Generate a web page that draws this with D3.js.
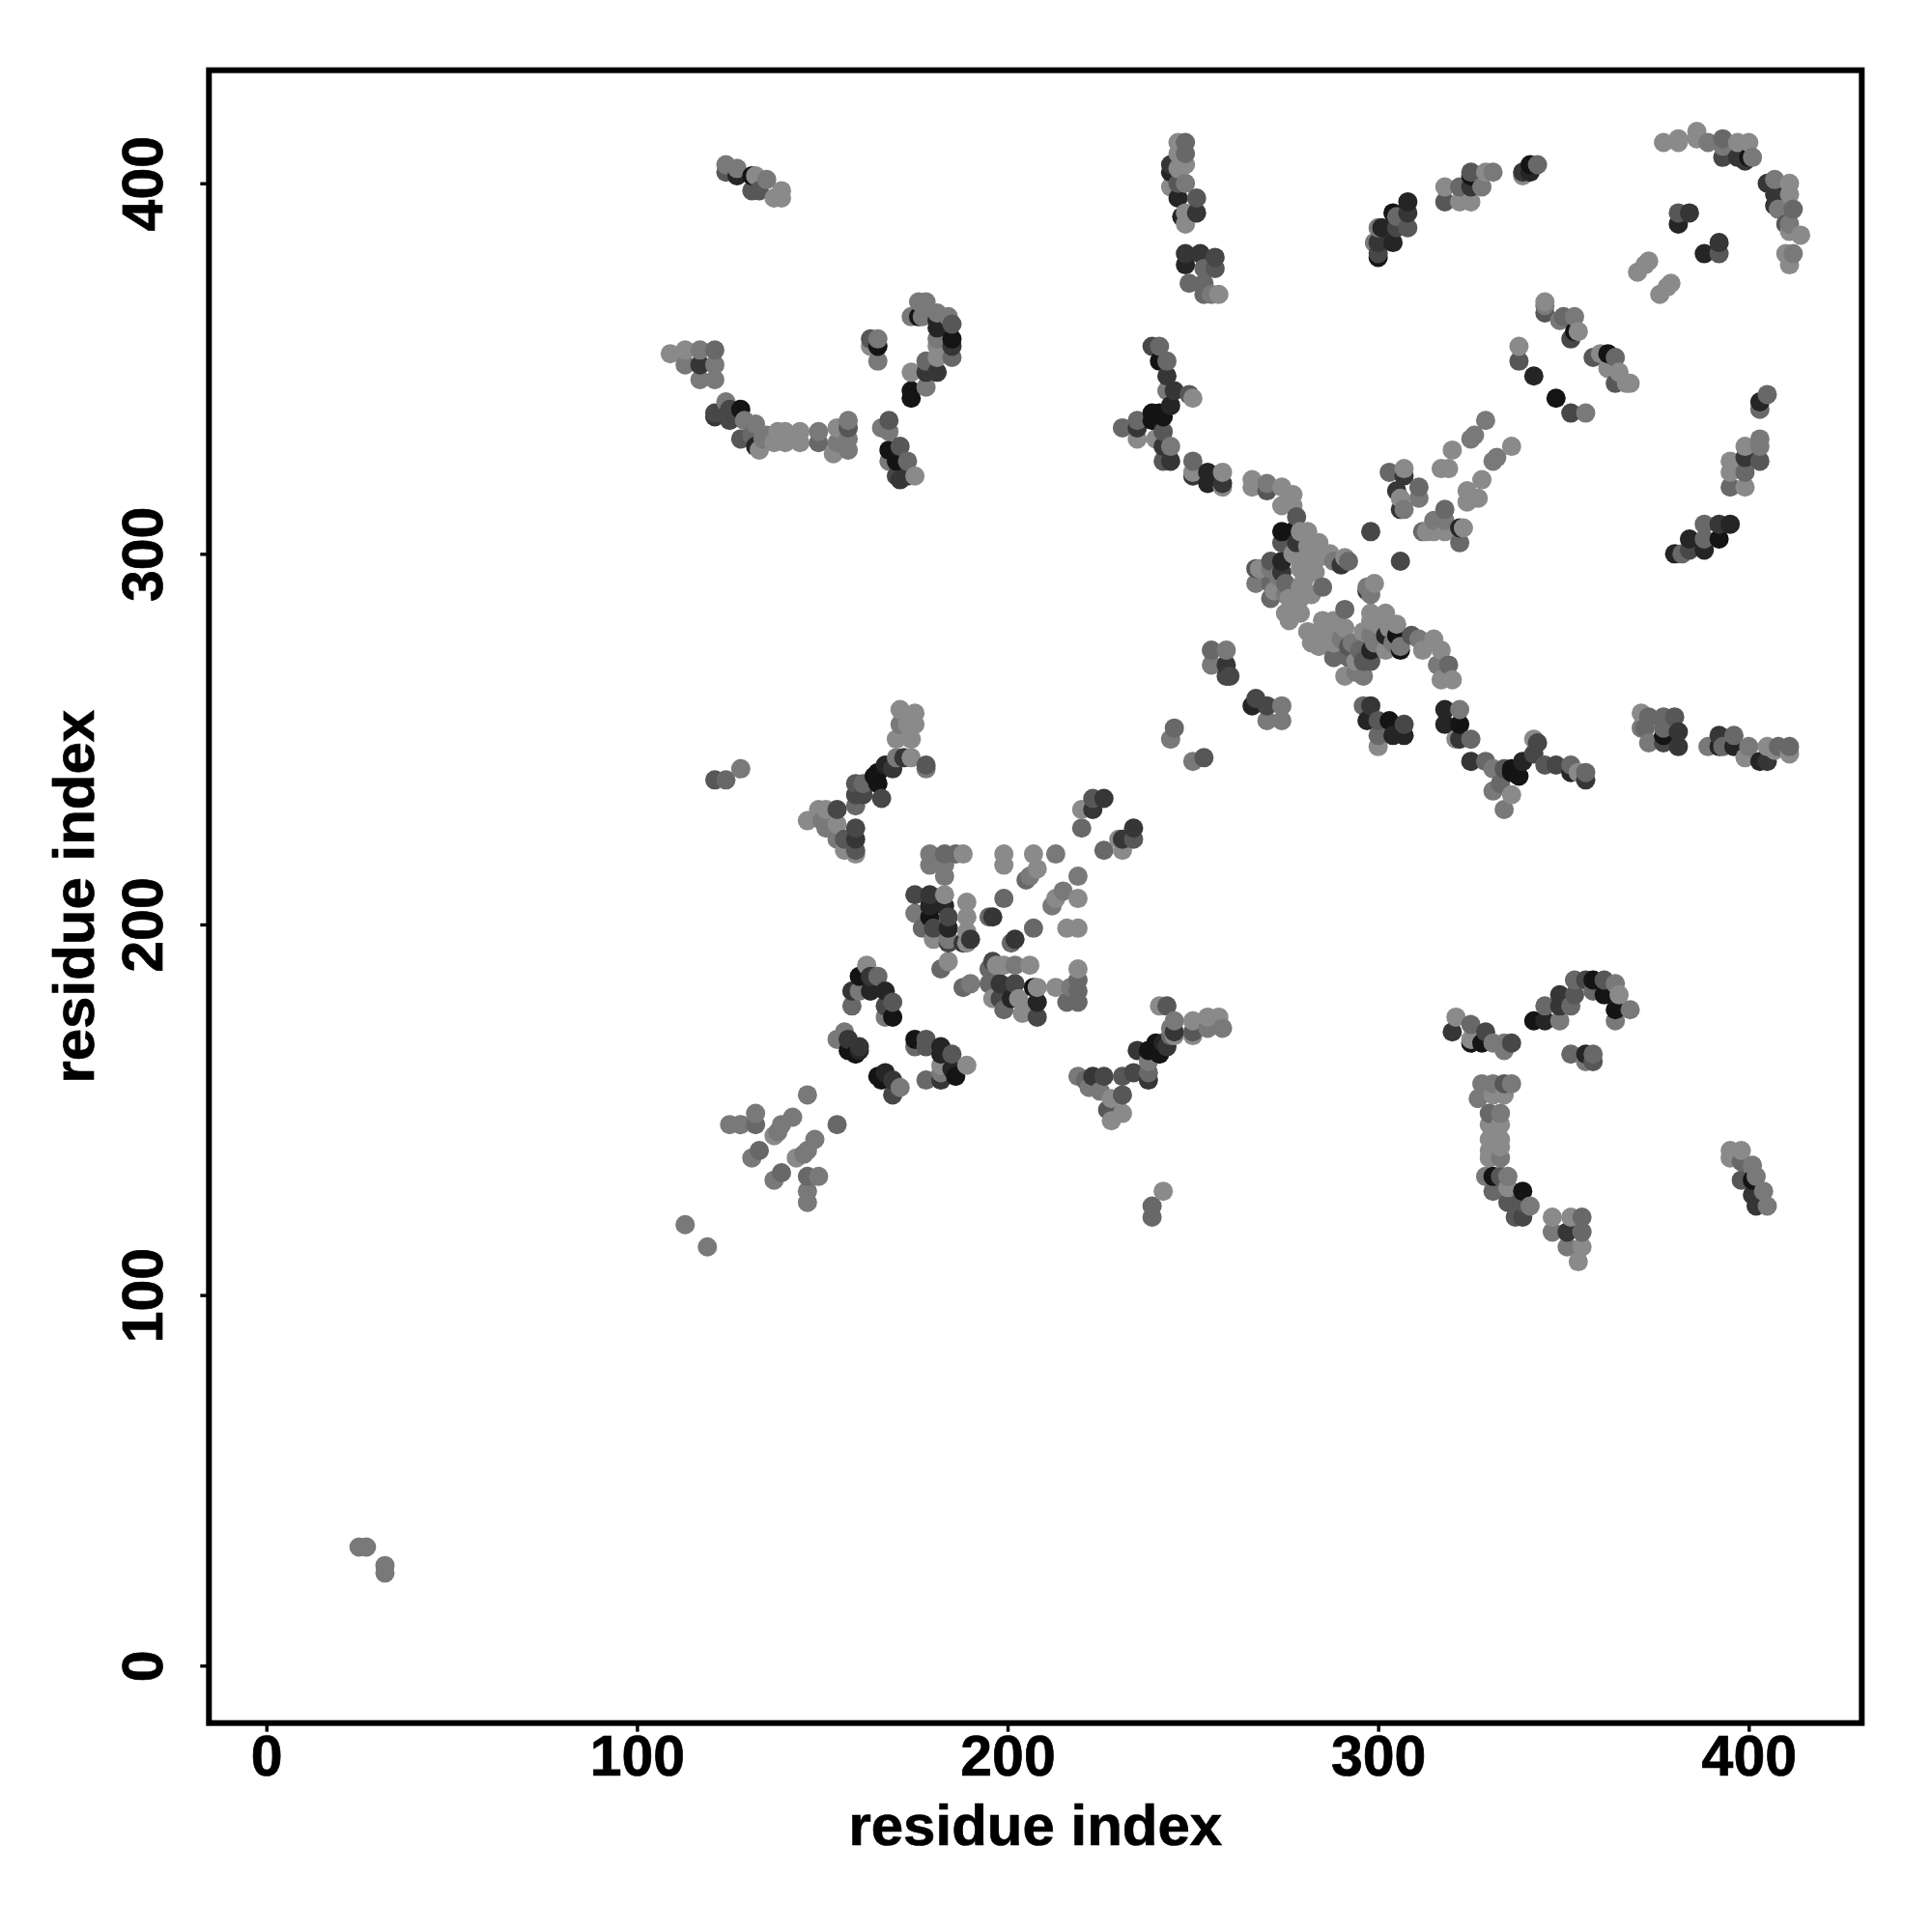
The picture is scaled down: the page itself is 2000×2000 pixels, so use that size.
<!DOCTYPE html>
<html><head><meta charset="utf-8">
<style>html,body{margin:0;padding:0;background:#fff}svg{display:block}text{font-family:"Liberation Sans",Arial,sans-serif;font-weight:700;fill:#000}</style>
<script src="https://cdn.jsdelivr.net/npm/d3@7"></script></head><body><div id="c"></div>
<script>
const axisTicks=[0,100,200,300,400];
const axisTitle="residue index";
// each contact: [residue i, residue j, darkness level 1 (black) .. 8 (light grey)]
const c01=[[25,32,7],[27,32,7],[32,27,7],[32,25,7]];
const c02=[[113,119,7],[119,113,7]];
const c03=[[125,146,7],[128,146,7],[132,149,7],[132,146,6],[137,143,8],[138,144,7],[139,146,7],[142,148,7],[154,146,6],[148,142,7],[146,139,7],[145,138,7],[143,137,8],[133,139,6],[131,137,7],[139,133,6],[137,131,7],[146,132,6],[149,132,7],[146,128,7],[146,125,7],[146,154,7]];
const c04=[[239,124,6],[239,121,6],[242,128,8]];
const c05=[[124,403,5],[124,405,7],[127,402,2],[127,404,7],[131,402,1],[131,398,5],[133,398,5],[135,401,7],[132,402,8],[137,396,8],[139,396,8],[139,398,8]];
const c06=[[109,354,8],[113,351,7],[113,355,8],[117,347,7],[117,351,3],[117,355,7],[121,347,7],[121,351,7],[121,355,6]];
const c07=[[121,337,3],[121,338,4],[124,341,7],[125,336,4],[125,339,4],[128,331,5],[128,339,1],[129,336,7],[131,332,6],[132,329,2],[132,335,7],[133,328,8],[134,331,7],[135,332,7],[138,333,8],[137,330,8],[140,333,8],[140,330,8],[144,333,8],[144,330,8],[149,333,7],[149,330,6],[153,327,8],[154,330,7],[154,334,8],[157,328,7],[157,331,7],[157,334,5],[157,336,7]];
const c08=[[163,356,8],[163,358,5],[165,352,7],[165,356,1],[165,358,7]];
const c09=[[174,342,1],[174,344,1],[174,349,8],[174,364,7],[176,364,1],[176,368,7],[177,364,7],[178,345,7],[178,349,3],[178,352,6],[178,368,7],[181,349,3],[181,353,8],[181,356,8],[181,358,7],[181,361,2],[181,363,2],[181,365,7],[184,364,7],[185,353,6],[185,356,3],[185,358,1],[185,362,5]];
const c10=[[166,334,7],[168,325,7],[168,328,1],[168,333,7],[168,336,5],[170,321,4],[170,325,1],[171,320,3],[171,329,5],[173,321,3],[173,325,6],[175,321,8]];
const c11=[[244,399,8],[244,403,2],[244,405,3],[246,396,2],[246,400,5],[246,404,8],[246,408,8],[246,411,8],[247,391,2],[248,389,8],[248,392,8],[248,400,7],[248,405,8],[248,408,6],[248,411,6],[251,392,3],[251,396,5]];
const c12=[[248,378,2],[248,381,3],[249,373,6],[252,381,3],[253,370,6],[253,373,6],[253,377,6],[255,370,7],[256,377,5],[256,380,4],[257,370,8]];
const c13=[[231,334,6],[235,331,8],[235,334,3],[235,336,6],[239,336,1],[239,338,1],[239,356,4],[240,331,8],[240,336,1],[241,338,1],[241,352,1],[241,356,6],[242,325,5],[242,329,3],[242,333,5],[242,337,1],[243,344,7],[243,348,3],[243,352,6],[244,325,3],[244,329,7],[244,340,2],[245,344,3],[249,343,5],[250,342,8]];
const c14=[[250,321,3],[250,322,8],[250,325,6],[254,319,2],[254,322,2],[258,318,8],[258,319,3],[258,322,8]];
const c15=[[266,318,8],[266,320,8],[270,317,5],[270,319,7],[274,313,8],[274,318,8],[277,313,8],[277,316,8],[278,310,5]];
const c16=[[267,292,7],[267,296,5],[268,296,8],[271,288,6],[271,292,6],[271,296,7],[271,298,5],[272,290,8],[273,294,7],[274,295,3],[274,298,2],[274,303,5],[274,306,1],[275,284,8],[275,289,7],[275,292,6],[276,282,8],[276,288,8],[277,286,8],[277,300,8],[277,306,1],[278,303,3],[279,284,8],[279,288,8],[279,291,8],[279,296,8],[279,298,8],[279,306,8],[280,293,8],[281,298,8],[281,302,8],[281,306,8],[282,289,8],[283,295,8],[284,299,8],[284,303,8],[285,291,6],[287,300,8],[288,298,7],[290,297,3],[291,299,8],[292,298,6]];
const c17=[[298,306,4],[306,298,4]];
const c18=[[297,290,3],[298,289,7],[297,291,7],[299,292,8]];
const c19=[[303,322,6],[306,312,3],[305,317,3],[306,315,8],[307,312,7],[307,321,3],[307,323,8],[311,315,7],[311,318,6],[317,323,8],[319,323,8],[320,328,8],[324,314,8],[324,317,8],[326,332,7],[325,331,7],[327,315,8],[328,320,8],[329,336,7],[332,326,7],[331,325,7],[336,329,8]];
const c20=[[312,306,6],[313,306,8],[315,306,8],[315,309,7],[318,306,8],[318,309,7],[318,312,6],[322,303,6],[322,307,2],[323,307,8]];
const c21=[[281,279,8],[282,276,8],[284,275,8],[284,279,8],[285,282,8],[286,278,8],[288,272,6],[288,276,8],[288,279,8],[288,282,8],[290,277,7],[291,267,8],[291,280,8],[291,285,6],[292,272,6],[292,275,5],[293,276,7],[294,268,7],[294,271,8],[295,274,6],[296,267,7],[296,271,5],[296,279,8],[298,274,2],[298,271,5],[298,278,7],[298,282,8],[298,284,8],[299,276,7],[300,281,8],[302,274,8],[302,278,2],[302,284,8],[303,280,8],[304,276,7],[305,278,1],[305,281,8],[306,274,1],[306,275,7],[309,278,5],[311,277,7],[312,274,8],[315,277,8],[316,270,7],[317,266,8],[317,274,8],[319,270,6],[320,266,8]];
const c22=[[296,259,6],[297,255,2],[298,259,3],[300,248,8],[300,251,6],[300,255,5],[303,255,1],[304,251,2],[307,251,2],[307,254,4]];
const c23=[[255,270,7],[255,274,6],[259,267,4],[259,270,3],[259,274,7],[260,267,4]];
const c24=[[266,259,2],[267,261,4],[270,255,7],[270,259,4],[274,255,7],[274,259,7]];
const c25=[[244,250,7],[245,253,6],[250,244,7],[253,245,5]];
const c26=[[318,254,2],[318,258,2],[321,250,8],[322,250,3],[322,254,1],[322,258,7],[325,250,6]];
const c27=[[371,253,7],[371,257,8],[372,253,6],[373,249,7],[373,256,6],[377,249,4],[377,251,1],[377,253,6],[377,256,6],[380,256,5],[381,248,3],[381,252,3]];
const c28=[[389,248,7],[392,248,2],[392,251,3],[393,248,6],[396,248,2],[396,251,6],[399,245,8],[400,248,7],[403,244,2],[405,244,3],[405,248,8],[407,247,8],[408,248,6],[411,246,8],[411,248,6]];
const c29=[[325,244,3],[329,244,6],[331,242,7],[331,236,7],[333,238,6],[334,242,5],[336,242,1],[336,241,1],[336,235,8],[334,231,7],[338,240,1],[339,244,2],[342,246,4],[342,250,8],[343,249,4],[345,243,5],[348,243,4],[352,241,2],[352,243,6],[354,241,8],[356,239,3],[356,241,6]];
const c30=[[300,380,1],[300,381,4],[300,384,3],[299,384,7],[300,388,7],[301,388,2],[304,384,2],[304,392,1],[305,388,4],[305,391,6],[308,388,5],[308,392,3],[308,395,2]];
const c31=[[318,395,5],[318,399,8],[322,395,8],[322,399,6],[325,395,8],[325,399,3],[325,402,1],[325,403,5],[328,399,7],[329,403,8],[331,403,7]];
const c32=[[339,402,8],[339,403,3],[341,403,2],[341,405,1],[343,405,6]];
const c33=[[377,411,8],[381,411,8],[381,412,8],[386,412,8],[386,414,8],[389,411,7],[393,407,4],[393,410,7],[393,412,6],[397,407,3],[397,411,8],[399,406,3],[400,407,1],[400,411,8],[401,407,7]];
const c34=[[405,400,3],[407,394,3],[407,397,3],[407,401,7],[408,393,7],[410,389,5],[411,387,8],[411,389,7],[411,397,8],[411,400,8],[412,393,6],[414,386,8],[410,381,8],[411,378,8],[412,381,7]];
const c35=[[381,389,2],[381,392,5],[384,392,3],[388,381,2],[392,381,5],[392,384,3]];
const c36=[[370,376,8],[373,379,8],[372,378,8],[376,370,8],[379,373,8],[378,372,8]];
const c37=[[345,365,5],[345,367,7],[345,368,8],[349,363,7],[350,364,6],[352,358,4],[353,360,1],[353,364,7],[354,360,8]];
const c38=[[358,353,5],[360,354,8],[362,350,8],[362,354,1],[364,346,5],[364,353,6],[365,349,8],[367,346,8],[368,346,8]];
const c39=[[338,352,5],[338,356,8],[342,348,2],[348,342,1],[352,338,4],[356,338,7]];
const c40=[[403,339,6],[403,341,2],[405,343,6],[403,325,5],[403,329,7],[403,331,7],[399,326,3],[399,329,8],[399,322,6],[399,318,8],[395,325,8],[395,322,8],[395,318,6]];
const c41=[[380,300,2],[382,300,6],[384,301,4],[384,304,2],[388,301,2],[388,304,6],[388,308,6],[392,304,1],[392,308,3],[395,308,2]];
const c42=[[121,239,5],[124,239,6],[128,242,7]];
const c43=[[170,250,8],[171,254,7],[171,258,8],[174,250,8],[173,254,8],[175,254,8],[175,257,8]];
const c44=[[164,240,1],[165,238,1],[165,241,1],[166,234,4],[167,243,2],[169,242,3],[170,245,7],[172,245,3],[174,245,8],[178,242,7],[178,243,5]];
const c45=[[146,228,8],[149,231,8],[150,228,7],[151,226,7],[151,231,8],[154,223,7],[154,227,8],[154,231,4],[156,220,8],[156,223,5],[159,219,8],[159,220,5],[159,223,3],[159,226,4],[159,232,6],[159,235,4],[159,238,5],[161,235,4],[161,238,6]];
const c46=[[223,231,3],[223,234,5],[220,226,6],[220,231,8],[226,234,3],[226,220,6],[230,223,8],[231,220,8],[231,223,3],[234,223,5],[234,226,3]];
const c47=[[179,216,7],[179,219,7],[183,213,7],[183,216,7],[183,219,6],[186,219,6],[188,219,8]];
const c48=[[199,207,6],[199,216,8],[199,219,8],[205,212,6],[206,213,7],[207,199,6],[207,219,8],[208,215,8],[212,205,7],[213,207,8],[213,219,7],[215,209,7],[216,199,8],[219,199,8],[219,207,8],[219,213,7]];
const c49=[[195,202,6],[196,202,3],[201,195,6],[202,196,3]];
const c50=[[175,203,7],[175,208,4],[177,199,6],[179,202,1],[179,205,2],[179,208,3],[180,196,8],[180,199,4],[183,205,2],[183,208,8],[184,195,4],[184,196,7],[184,199,2],[184,202,4],[188,195,3],[189,195,8],[189,198,8],[189,202,8],[189,206,8],[190,196,3],[182,188,6],[184,190,8],[188,183,6],[190,184,7]];
const c51=[[195,184,6],[195,188,6],[196,180,8],[196,190,4],[197,189,8],[198,180,4],[198,184,3],[199,177,6],[199,189,8],[201,180,2],[202,184,4],[202,189,7],[203,180,8],[204,176,8],[206,177,8],[206,189,8],[207,183,1],[208,175,4],[208,179,2],[208,183,8]];
const c52=[[213,183,8],[216,179,6],[217,183,7],[219,179,6],[219,182,6],[219,185,6],[219,188,8]];
const c53=[[158,178,6],[158,182,3],[160,182,7],[160,186,1],[162,189,8],[163,182,2],[163,186,3],[165,186,6],[167,175,7],[167,178,4],[167,182,2],[169,175,1],[169,179,5]];
const c54=[[154,169,7],[156,171,7],[157,166,1],[157,169,3],[159,165,1],[160,166,2],[160,167,3]];
const c55=[[165,159,1],[166,158,1],[167,160,2],[169,154,4],[169,158,3],[171,156,7]];
const c56=[[175,167,6],[175,169,1],[178,158,6],[178,167,5],[178,169,5],[182,158,3],[182,160,7],[182,162,8],[182,165,2],[182,167,2],[185,165,5],[185,161,2],[186,159,1],[189,162,8]];
const c57=[[219,159,7],[221,158,6],[222,156,7],[223,159,3],[225,155,7],[226,159,4],[227,150,5],[228,147,8],[228,153,8],[231,149,8],[231,154,5],[231,159,5],[234,160,4],[235,166,3],[238,158,3],[238,160,6],[238,163,7],[238,166,1],[240,168,1],[241,165,1],[242,168,2],[243,167,3],[244,170,6]];
const c58=[[241,178,8],[243,178,5],[244,172,7],[245,170,8],[245,171,3],[245,174,7]];
const c59=[[250,170,8],[250,171,5],[250,174,8],[254,172,7],[254,175,8],[257,175,8],[258,172,7]];
const c60=[[321,175,8],[320,171,3],[325,173,6],[325,168,1],[325,169,8],[328,168,1],[329,171,4],[331,168,7],[334,166,7],[334,168,7],[336,168,4]];
const c61=[[342,174,1],[345,174,2],[345,178,6],[349,174,7],[349,178,3],[349,181,3],[352,178,6],[353,181,5],[353,185,6],[356,185,4],[358,182,6],[358,185,1],[361,181,1],[361,185,5],[364,177,1],[364,174,7],[364,184,7],[365,181,8],[368,177,7]];
const c62=[[352,165,6],[356,163,7],[356,165,2],[358,163,5],[358,165,6]];
const c63=[[327,153,7],[328,157,7],[330,137,8],[330,139,8],[330,142,8],[330,146,8],[330,149,6],[331,154,8],[331,157,7],[333,137,7],[333,140,8],[333,142,8],[333,146,8],[333,149,7],[334,154,8],[334,157,5],[336,157,7]];
const c64=[[329,132,7],[331,128,6],[331,132,1],[333,132,5],[335,125,5],[335,129,8],[335,132,7],[337,121,5],[339,121,4],[339,125,5],[339,128,1],[341,124,7]];
const c65=[[347,117,7],[347,121,8],[351,113,7],[351,117,3],[352,121,8],[354,109,8],[355,113,8],[355,117,6],[355,121,6]];
const c66=[[395,137,8],[395,139,8],[398,131,5],[398,136,6],[398,139,8],[401,127,3],[401,131,1],[401,135,7],[402,124,3],[402,132,7],[404,128,7],[405,124,7]];
const contactGroups=[c01,c02,c03,c04,c05,c06,c07,c08,c09,c10,c11,c12,c13,c14,c15,c16,c17,c18,c19,c20,c21,c22,c23,c24,c25,c26,c27,c28,c29,c30,c31,c32,c33,c34,c35,c36,c37,c38,c39,c40,c41,c42,c43,c44,c45,c46,c47,c48,c49,c50,c51,c52,c53,c54,c55,c56,c57,c58,c59,c60,c61,c62,c63,c64,c65,c66];

const W=2000,H=2000,box={l:216.3,r:1927.3,t:72.7,b:1783.7};
const x=d3.scaleLinear().domain([-15.5,430.5]).range([box.l,box.r]);
const y=d3.scaleLinear().domain([-15.5,430.5]).range([box.b,box.t]);
const grey=d3.scaleLinear().domain([1,8]).range(["#141414","#8a8a8a"]);
const svg=d3.select("#c").append("svg").attr("width",W).attr("height",H);
const pts=d3.merge(contactGroups).sort((a,b)=>a[0]-b[0]||a[1]-b[1]);
svg.append("g").selectAll("circle").data(pts).join("circle")
  .attr("cx",d=>x(d[0])).attr("cy",d=>y(d[1])).attr("r",10).attr("fill",d=>grey(d[2]));
svg.append("rect").attr("x",box.l).attr("y",box.t).attr("width",box.r-box.l).attr("height",box.b-box.t)
  .attr("fill","none").attr("stroke","#000").attr("stroke-width",6);
const tickFont=59,titleFont=60;
const ax=svg.append("g").attr("transform",`translate(0,${box.b})`).call(d3.axisBottom(x).tickValues(axisTicks).tickSize(9).tickPadding(0));
const ay=svg.append("g").attr("transform",`translate(${box.l},0)`).call(d3.axisLeft(y).tickValues(axisTicks).tickSize(9).tickPadding(0));
[ax,ay].forEach(g=>{g.select(".domain").remove();g.selectAll("line").attr("stroke","#000").attr("stroke-width",3.4);
  g.selectAll("text").attr("font-size",tickFont).attr("font-family",'"Liberation Sans"').attr("font-weight",700).attr("fill","#000").attr("stroke","#000").attr("stroke-width",0.7);});
ax.selectAll("text").attr("y",0).attr("dy",0).attr("text-anchor","middle").attr("dominant-baseline","central").attr("transform","translate(0,34.5)");
ay.selectAll("text").attr("x",0).attr("dy",0).attr("text-anchor","middle").attr("dominant-baseline","central").attr("transform","translate(-68,0) rotate(-90)");
svg.append("text").attr("x",(box.l+box.r)/2).attr("y",1889.5).attr("text-anchor","middle").attr("dominant-baseline","central").attr("font-size",titleFont).attr("stroke","#000").attr("stroke-width",0.7).text(axisTitle);
svg.append("text").attr("transform",`translate(76.5,${(box.t+box.b)/2}) rotate(-90)`).attr("text-anchor","middle").attr("dominant-baseline","central").attr("font-size",titleFont).attr("stroke","#000").attr("stroke-width",0.7).text(axisTitle);
</script></body></html>
